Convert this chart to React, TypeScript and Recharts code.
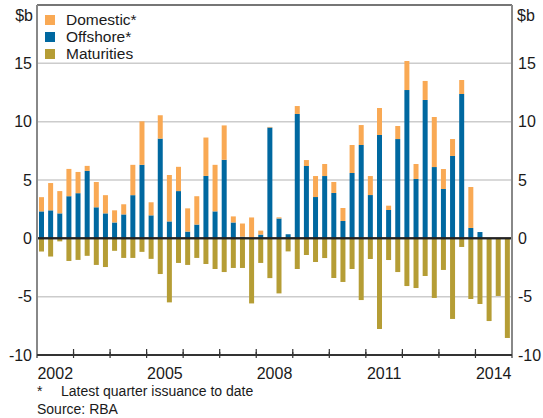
import React from "react";
import {
  ComposedChart,
  Bar,
  Line,
  XAxis,
  YAxis,
  CartesianGrid,
  ReferenceLine,
} from "recharts";

// quarterly, 2002 Q1 .. 2014 Q4 ($b)
const offshore = [
  2.31, 2.4, 2.14, 3.61, 3.87, 5.78, 2.66, 2.14, 1.36, 2.05, 3.7, 6.3,
  1.97, 8.55, 1.45, 4.05, 0.58, 1.18, 5.35, 2.31, 6.73, 1.36, 0.14, 0.05,
  0.32, 9.5, 1.7, 0.35, 10.66, 6.2, 3.54, 5.34, 3.89, 1.49, 5.6, 8.0,
  3.71, 8.86, 2.43, 8.51, 12.71, 5.09, 11.86, 6.11, 4.23, 7.06, 12.37, 0.89,
  0.54, 0, 0, 0,
];
const domestic = [
  1.22, 2.34, 1.91, 2.34, 1.82, 0.43, 2.17, 1.56, 1.04, 0.87, 2.6, 3.73,
  1.12, 2.0, 3.98, 2.08, 1.99, 2.43, 3.29, 3.99, 2.95, 0.52, 1.13, 1.74,
  0.34, 0.05, 0.1, 0, 0.68, 0.51, 1.8, 1.03, 0.94, 1.11, 2.4, 1.71,
  1.63, 2.31, 0.37, 1.12, 2.49, 1.28, 1.63, 4.29, 1.71, 1.45, 1.2, 3.51,
  0, 0, 0, 0,
];
const maturities = [
  -1.13, -1.56, -0.26, -1.94, -1.85, -1.5, -2.28, -2.46, -1.07, -1.68,
  -1.68, -1.16, -1.76, -3.06, -5.49, -2.11, -2.28, -1.68, -2.2, -2.63,
  -2.89, -2.54, -2.54, -5.58, -2.11, -3.41, -4.72, -1.12, -2.63, -1.43,
  -2.03, -1.69, -3.4, -3.74, -2.63, -5.29, -1.77, -7.77, -1.86, -2.89,
  -4.09, -4.26, -3.23, -5.11, -2.71, -6.91, -0.74, -5.2, -5.63, -7.09,
  -4.94, -8.54,
];
const firstYear = 2002;
const yearLabels = [2002, 2005, 2008, 2011, 2014];
const yTicks = [-10, -5, 0, 5, 10, 15];
const yDomain = [-10, 20];

const colors: Record<string, string> = {
  domestic: "#F9A954",
  offshore: "#0068A0",
  maturities: "#B59D35",
};

const legendItems = [
  { key: "domestic", label: "Domestic*" },
  { key: "offshore", label: "Offshore*" },
  { key: "maturities", label: "Maturities" },
];

const font = "'Liberation Sans', Arial, Helvetica, sans-serif";
const frame = "#555";

// plot box inside the 543x418 chart
const W = 543;
const H = 418;
const plot = { left: 37, top: 5, right: 512, bottom: 355 };

const data = offshore.map((o, i) => ({
  t: i + 0.5,
  offshore: o,
  domestic: domestic[i],
  maturities: maturities[i],
}));

const nQuarters = offshore.length;
const nYears = nQuarters / 4;
const boundaryTicks = Array.from({ length: nYears + 1 }, (_, i) => i * 4);
const labelTicks = yearLabels.map((y) => (y - firstYear) * 4 + 2);
const xTicks = [...boundaryTicks, ...labelTicks].sort((a, b) => a - b);

function XTick(props: any) {
  const { x, y, payload } = props;
  const v = payload.value;
  if (v % 4 === 0) {
    return <path d={`M${x},${y - 5}V${y - 11}`} stroke="#333" strokeWidth={1.2} fill="none" />;
  }
  const year = firstYear + (v - 2) / 4;
  return (
    <text x={x} y={y + 16} textAnchor="middle" fontSize={16} fill="#1a1a1a" fontFamily={font}>
      {year}
    </text>
  );
}

// frame, zero line and year ticks drawn over the plot box
function Frame() {
  const pw = plot.right - plot.left;
  const ph = plot.bottom - plot.top;
  const zeroY = plot.top + ((yDomain[1] - 0) / (yDomain[1] - yDomain[0])) * ph;
  return (
    <svg
      width={W}
      height={H}
      style={{ position: "absolute", left: 0, top: 0, pointerEvents: "none" }}
    >
      <line x1={plot.left} x2={plot.right} y1={zeroY} y2={zeroY} stroke="#222" strokeWidth={1.8} />
      {boundaryTicks.map((q) => {
        const x = plot.left + (q / nQuarters) * pw;
        return <line key={q} x1={x} x2={x} y1={plot.bottom} y2={plot.bottom - 6} stroke="#333" strokeWidth={1.2} />;
      })}
      <line x1={plot.left} x2={plot.right} y1={plot.top} y2={plot.top} stroke={frame} strokeWidth={1.6} />
      <line x1={plot.left} x2={plot.left} y1={plot.top} y2={plot.bottom} stroke="#888" strokeWidth={2} />
      <line x1={plot.right} x2={plot.right} y1={plot.top} y2={plot.bottom} stroke="#888" strokeWidth={2} />
      <line x1={plot.left} x2={plot.right} y1={plot.bottom} y2={plot.bottom} stroke="#333" strokeWidth={1.8} />
    </svg>
  );
}

export default function App() {
  const tickStyle = { fontSize: 16, fill: "#1a1a1a", fontFamily: font };
  const txt = { position: "absolute" as const, color: "#1a1a1a", whiteSpace: "nowrap" as const };
  return (
    <div
      style={{
        position: "absolute",
        left: 0,
        top: 0,
        width: W,
        height: H,
        background: "#fff",
        fontFamily: font,
      }}
    >
      <ComposedChart
        width={W}
        height={H}
        data={data}
        stackOffset="sign"
        margin={{ top: plot.top, right: 0, bottom: 43, left: 0 }}
      >
        <CartesianGrid vertical={false} stroke="#cccccc" strokeWidth={1.5} yAxisId="l" />
        <XAxis
          dataKey="t"
          type="number"
          domain={[0, nQuarters]}
          ticks={xTicks}
          interval={0}
          tick={<XTick />}
          tickLine={false}
          height={20}
          stroke="#333"
          strokeWidth={2}
        />
        <YAxis
          yAxisId="l"
          domain={yDomain}
          ticks={yTicks}
          interval={0}
          width={plot.left}
          tickLine={false}
          tickSize={5}
          tickMargin={0}
          tick={tickStyle}
          stroke={frame}
          strokeWidth={2}
        />
        <YAxis
          yAxisId="r"
          orientation="right"
          domain={yDomain}
          ticks={yTicks}
          interval={0}
          width={W - plot.right}
          tickLine={false}
          tickSize={5}
          tickMargin={1}
          tick={tickStyle}
          stroke={frame}
          strokeWidth={2}
        />
        <Bar dataKey="offshore" yAxisId="l" stackId="a" barSize={5} fill={colors.offshore} isAnimationActive={false} />
        <Bar dataKey="domestic" yAxisId="l" stackId="a" barSize={5} fill={colors.domestic} isAnimationActive={false} />
        <Bar dataKey="maturities" yAxisId="l" stackId="a" barSize={5} fill={colors.maturities} isAnimationActive={false} />
        {/* carries the right-hand axis; not drawn */}
        <Line
          dataKey="offshore"
          yAxisId="r"
          stroke="none"
          dot={false}
          activeDot={false}
          legendType="none"
          isAnimationActive={false}
        />
        <ReferenceLine y={0} yAxisId="l" stroke="#222" strokeWidth={2} />
      </ComposedChart>

      <Frame />

      <div style={{ ...txt, left: 45, top: 11, fontSize: 15.5, lineHeight: "17px" }}>
        {legendItems.map((it) => (
          <div key={it.key} style={{ display: "flex", alignItems: "center" }}>
            <span
              style={{
                display: "inline-block",
                width: 10,
                height: 10,
                background: colors[it.key],
                marginRight: 11,
              }}
            />
            {it.label}
          </div>
        ))}
      </div>

      <div style={{ ...txt, right: W - 33, top: 7, fontSize: 16 }}>$b</div>
      <div style={{ ...txt, left: 517, top: 7, fontSize: 16 }}>$b</div>
      <div style={{ ...txt, left: 37, top: 383, fontSize: 14 }}>*</div>
      <div style={{ ...txt, left: 61, top: 383, fontSize: 14 }}>Latest quarter issuance to date</div>
      <div style={{ ...txt, left: 37, top: 401, fontSize: 14 }}>Source: RBA</div>
    </div>
  );
}
